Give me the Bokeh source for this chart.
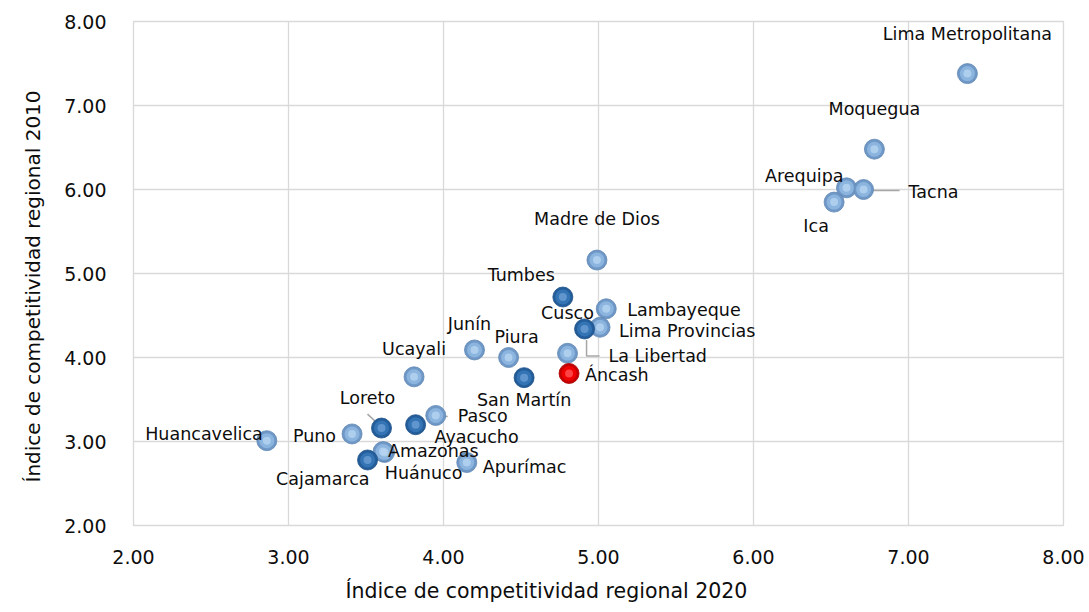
from bokeh.plotting import figure
from bokeh.models import ColumnDataSource, Range1d, FixedTicker, Title
from bokeh.core.properties import value
from bokeh.embed import file_html
from bokeh.resources import INLINE

# ---------------- data ----------------
regions = ["Lima Metropolitana", "Moquegua", "Arequipa", "Tacna", "Ica",
           "Madre de Dios", "Tumbes", "Lambayeque", "Lima Provincias", "La Libertad",
           "Cusco", "Áncash", "Piura", "Junín", "Ucayali", "San Martín",
           "Huancavelica", "Puno", "Loreto", "Ayacucho", "Pasco", "Huánuco",
           "Amazonas", "Cajamarca", "Apurímac"]
idx_2020 = [7.38, 6.78, 6.60, 6.71, 6.52,
            4.99, 4.77, 5.05, 5.01, 4.91,
            4.80, 4.81, 4.42, 4.20, 3.81, 4.52,
            2.86, 3.41, 3.60, 3.82, 3.95, 3.62,
            3.61, 3.51, 4.15]
idx_2010 = [7.38, 6.48, 6.02, 6.00, 5.85,
            5.16, 4.72, 4.58, 4.36, 4.34,
            4.05, 3.81, 4.00, 4.09, 3.77, 3.76,
            3.01, 3.09, 3.16, 3.20, 3.31, 2.87,
            2.88, 2.78, 2.75]
tick_values = [2, 3, 4, 5, 6, 7, 8]
tick_labels = ["2.00", "3.00", "4.00", "5.00", "6.00", "7.00", "8.00"]
x_title = "Índice de competitividad regional 2020"
y_title = "Índice de competitividad regional 2010"

# ---------------- styling ----------------
highlight_region = "Áncash"
dark_regions = ["Tumbes", "La Libertad", "San Martín", "Loreto", "Ayacucho", "Cajamarca"]

# label placement: (align, dx px, dy px down)
label_layout = {
    "Lima Metropolitana": ("center", 0, -40),
    "Moquegua": ("center", 0, -40),
    "Arequipa": ("right", -3, -12),
    "Tacna": ("left", 45, 2),
    "Ica": ("center", -18, 24),
    "Madre de Dios": ("center", 0, -41),
    "Tumbes": ("right", -8, -22),
    "Lambayeque": ("left", 21, 1),
    "Lima Provincias": ("left", 19, 4),
    "La Libertad": ("left", 24, 27),
    "Cusco": ("center", 0, -40),
    "Áncash": ("left", 16, 2),
    "Piura": ("center", 8, -21),
    "Junín": ("center", -5, -26),
    "Ucayali": ("center", 0, -28),
    "San Martín": ("center", 0, 22),
    "Huancavelica": ("right", -4, -7),
    "Puno": ("right", -16, 2),
    "Loreto": ("center", -14, -30),
    "Ayacucho": ("left", 19, 12),
    "Pasco": ("left", 22, 1),
    "Huánuco": ("center", 39, 21),
    "Amazonas": ("left", 5, -1),
    "Cajamarca": ("right", 2, 19),
    "Apurímac": ("left", 16, 4),
}
# leader lines, pixel offsets (dx, dy down) from the point
leaders = {
    "Tacna": [(4, 1), (36, 1)],
    "Lima Provincias": [(2, 3), (10, 3)],
    "La Libertad": [(2, 11), (2, 27), (15, 27)],
    "Pasco": [(2, 1), (12, 1)],
    "Loreto": [(-14, -14), (0, -1)],
}

W, H = 1089, 612
B_LEFT, B_RIGHT, B_TOP, B_BOTTOM = 133, 26, 21, 86
XMIN, XMAX, YMIN, YMAX = tick_values[0], tick_values[-1], tick_values[0], tick_values[-1]
frame_w = W - B_LEFT - B_RIGHT
frame_h = H - B_TOP - B_BOTTOM
ux = frame_w / (XMAX - XMIN)
uy = frame_h / (YMAX - YMIN)

FONT = "DejaVu Sans"
TXT = "#0d0d0d"
GRID = "#d9d9d9"

p = figure(width=W, height=H, output_backend="svg", toolbar_location=None,
           x_range=Range1d(XMIN, XMAX), y_range=Range1d(YMIN, YMAX),
           min_border_left=B_LEFT, min_border_right=B_RIGHT,
           min_border_top=B_TOP, min_border_bottom=B_BOTTOM)
p.background_fill_color = "white"
p.border_fill_color = "white"
p.outline_line_color = GRID
p.outline_line_width = 1.3

for ax in (p.xaxis, p.yaxis):
    ax.ticker = FixedTicker(ticks=tick_values)
    ax.major_label_overrides = {v: l for v, l in zip(tick_values, tick_labels)}
    ax.axis_line_color = None
    ax.major_tick_line_color = None
    ax.minor_tick_line_color = None
    ax.major_label_text_font = FONT
    ax.major_label_text_font_size = "19px"
    ax.major_label_text_color = TXT
p.xaxis.major_label_standoff = 18
p.yaxis.major_label_standoff = 21

for g in (p.xgrid, p.ygrid):
    g.ticker = FixedTicker(ticks=tick_values)
    g.grid_line_color = GRID
    g.grid_line_width = 1.3

# leader lines
lx, ly = [], []
for name, pts in leaders.items():
    i = regions.index(name)
    lx.append([idx_2020[i] + dx / ux for dx, dy in pts])
    ly.append([idx_2010[i] - dy / uy for dx, dy in pts])
p.multi_line(xs=lx, ys=ly, line_color="#a6a6a6", line_width=1.5)

# points as shaded spheres
groups = {
    "light": ([], [], ("#6f98c7", "#8cb5df", "#b6d4f1", "#5f86b3")),
    "dark": ([], [], ("#235d9a", "#3675b6", "#6c9fd3", "#1d4f86")),
    "red": ([], [], ("#c40000", "#f00000", "#ff5252", "#a80000")),
}
for name, xv, yv in zip(regions, idx_2020, idx_2010):
    key = "red" if name == highlight_region else ("dark" if name in dark_regions else "light")
    groups[key][0].append(xv)
    groups[key][1].append(yv)
for key in ("light", "dark", "red"):
    xs, ys, (c_out, c_mid, c_in, c_edge) = groups[key]
    src = ColumnDataSource(dict(x=xs, y=ys))
    p.scatter("x", "y", source=src, size=20, fill_color=c_out, line_color=c_edge, line_width=0.8)
    p.scatter("x", "y", source=src, size=15, fill_color=c_mid, line_color=None, fill_alpha=0.95)
    p.scatter("x", "y", source=src, size=8, fill_color=c_in, line_color=None, fill_alpha=0.8)

# data labels
for align in ("left", "center", "right"):
    rows = [(n, x, y, label_layout[n][1], label_layout[n][2])
            for n, x, y in zip(regions, idx_2020, idx_2010) if label_layout[n][0] == align]
    src = ColumnDataSource(dict(name=[r[0] for r in rows], x=[r[1] for r in rows],
                                y=[r[2] for r in rows], dx=[r[3] for r in rows],
                                dy=[r[4] for r in rows]))
    p.text(x="x", y="y", text="name", x_offset="dx", y_offset="dy", source=src,
           text_align=align, text_baseline="middle", text_font=value(FONT),
           text_font_size="17.5px", text_color=TXT)

# axis titles
p.add_layout(Title(text=x_title, align="left", offset=212, standoff=20,
                   text_font=FONT, text_font_size="20.5px", text_font_style="normal",
                   text_color=TXT), "below")
p.add_layout(Title(text=y_title, align="left", offset=43, standoff=34,
                   text_font=FONT, text_font_size="20px", text_font_style="normal",
                   text_color=TXT), "left")

open("out.html", "w").write(file_html(p, INLINE))
